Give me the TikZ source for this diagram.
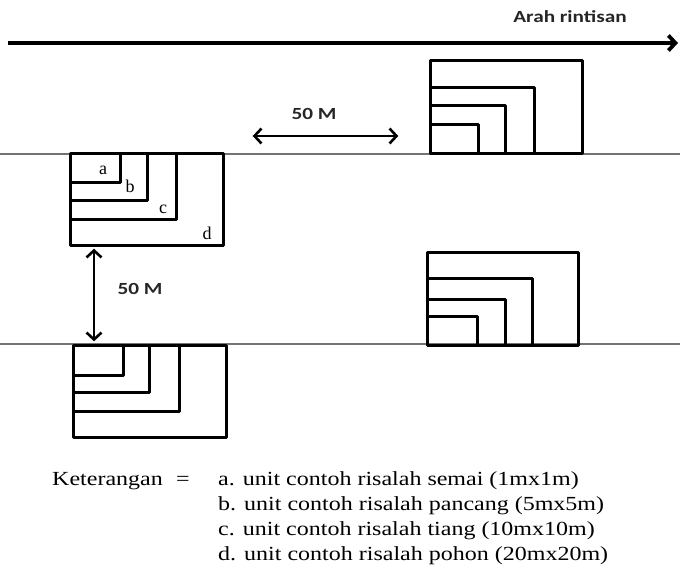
\documentclass[tikz,border=0pt]{standalone}
\usepackage{fontspec}
\setmainfont{Liberation Serif}
\newfontfamily\calib[FakeStretch=1.25]{Carlito}
\newfontfamily\legfont[FakeStretch=1.2]{Liberation Serif}
\usetikzlibrary{arrows.meta}
\begin{document}
\begin{tikzpicture}[x=1pt,y=-1pt,
  plotbox/.style={line width=3pt,line join=round},
  thinline/.style={line width=1.1pt,draw=black!55},
  dimarrow/.style={line width=2.6pt,{Straight Barb[length=7pt,width=15pt]}-{Straight Barb[length=7pt,width=15pt]}},
  sanslabel/.style={font=\calib\bfseries\fontsize{17}{19}\selectfont,inner sep=0pt,text=black!85},
  letterlabel/.style={font=\fontsize{18}{20}\selectfont,inner sep=0pt},
  legend/.style={font=\legfont\fontsize{20}{22}\selectfont,inner sep=0pt,anchor=base west}]
\useasboundingbox (0,0) rectangle (680,569);
% main direction arrow
\coordinate (ms) at (8,43);
\coordinate (me) at (678,43);
\draw[line width=3.8pt,-{Straight Barb[length=7pt,width=15pt]}] (ms) -- (me);
\node[sanslabel,anchor=base] (arah) at (570,23) {Arah rintisan};
% thin lines
\coordinate (l1a) at (0,154); \coordinate (l1b) at (680,154);
\coordinate (l2a) at (0,344); \coordinate (l2b) at (680,344);
\draw[thinline] (l1a) -- (l1b);
\draw[thinline] (l2a) -- (l2b);
% top-left plot
\draw[plotbox] (70,154) rectangle (223,246);
\draw[plotbox] (70,183) -| (120,154);
\draw[plotbox] (70,201) -| (147,154);
\draw[plotbox] (70,220) -| (176,154);
\node[letterlabel] (la) at (103,170) {a};
\node[letterlabel] (lb) at (130,186) {b};
\node[letterlabel] (lc) at (163,209) {c};
\node[letterlabel] (ld) at (207,233) {d};
% vertical dimension
\node[inner sep=0pt] (vt) at (94,248) {};
\node[inner sep=0pt] (vb) at (94,342) {};
\draw[dimarrow] (vt) -- (vb);
\node[sanslabel,anchor=base] (v50) at (140,295) {50 M};
% bottom-left plot
\draw[plotbox] (73,345) rectangle (226,437);
\draw[plotbox] (73,375) -| (123,345);
\draw[plotbox] (73,392) -| (149,345);
\draw[plotbox] (73,411) -| (179,345);
% top-right plot
\draw[plotbox] (430,61) rectangle (582,154);
\draw[plotbox] (430,88) -| (534,154);
\draw[plotbox] (430,106) -| (505,154);
\draw[plotbox] (430,125) rectangle (478,154);
% horizontal dimension
\node[inner sep=0pt] (hl) at (252,136) {};
\node[inner sep=0pt] (hr) at (399,136) {};
\draw[dimarrow] (hl) -- (hr);
\node[sanslabel,anchor=base] (h50) at (314,120) {50 M};
% bottom-right plot
\draw[plotbox] (427,253) rectangle (578,345);
\draw[plotbox] (427,279) -| (532,345);
\draw[plotbox] (427,300) -| (505,345);
\draw[plotbox] (427,317) -| (477,345);
% legend
\node[legend] (ket) at (52,485) {Keterangan};
\node[legend] (eq) at (176,485) {=};
\node[legend] (ia) at (218,485) {a. unit contoh risalah semai (1mx1m)};
\node[legend] (ib) at (218,510) {b. unit contoh risalah pancang (5mx5m)};
\node[legend] (ic) at (218,535) {c. unit contoh risalah tiang (10mx10m)};
\node[legend] (id) at (218,560) {d. unit contoh risalah pohon (20mx20m)};
\end{tikzpicture}
\end{document}
